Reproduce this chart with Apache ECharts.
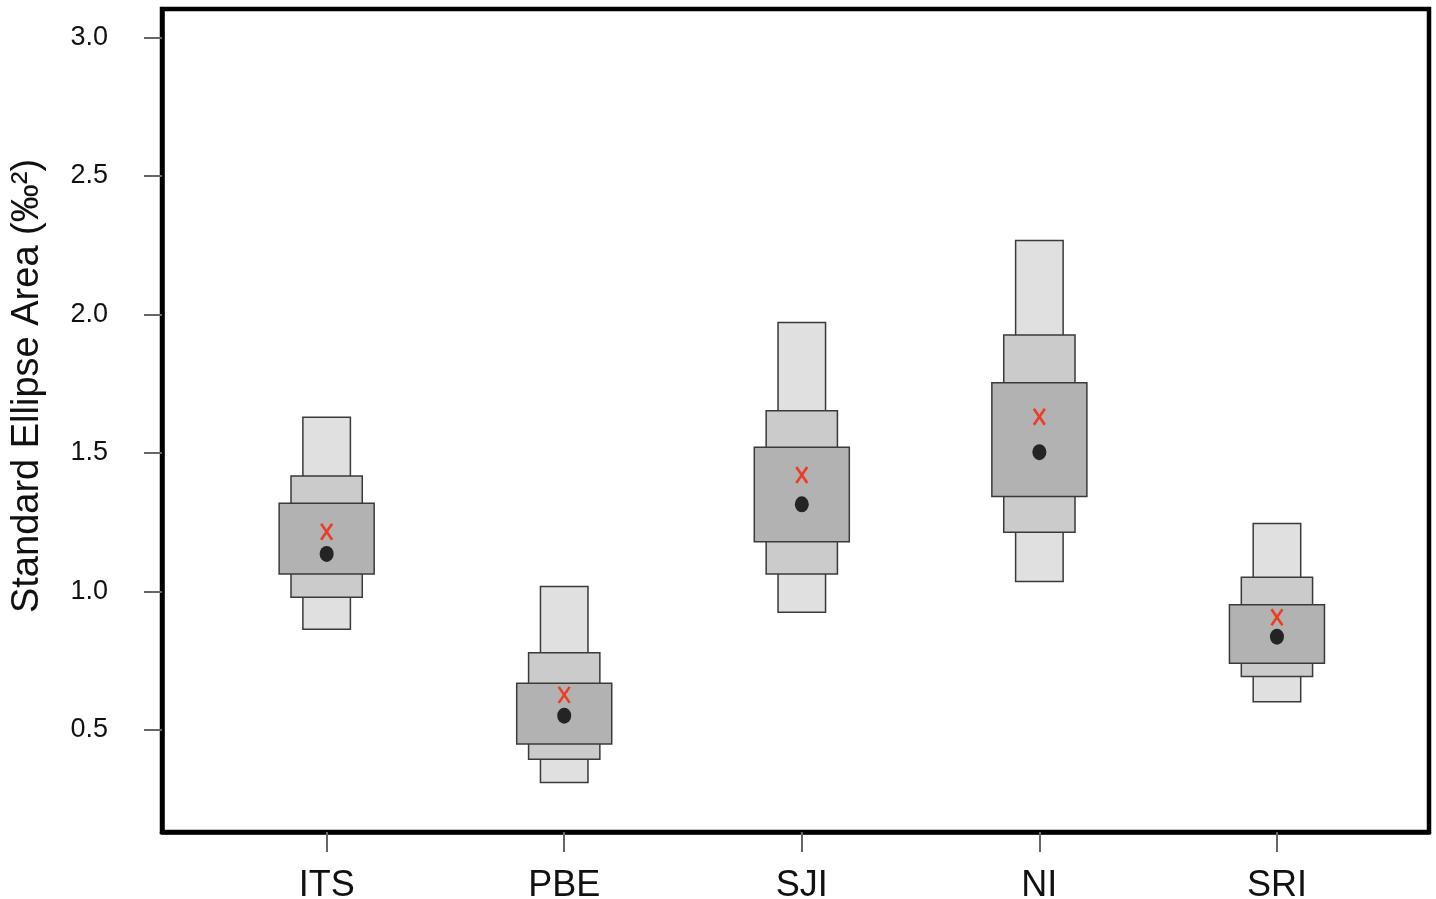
<!DOCTYPE html>
<html>
<head>
<meta charset="utf-8">
<script src="https://cdn.jsdelivr.net/npm/echarts@6/dist/echarts.min.js"></script>
<style>
html,body{margin:0;padding:0;background:#fff;}
#chart{width:1436px;height:899px;}
</style>
</head>
<body>
<div id="chart"></div>
<script>
// ---- data ----
var categories = ['ITS', 'PBE', 'SJI', 'NI', 'SRI'];
var ci95Low  = [0.863, 0.310, 0.924, 1.035, 0.601];
var ci95High = [1.628, 1.017, 1.970, 2.266, 1.245];
var ci75Low  = [0.978, 0.394, 1.062, 1.213, 0.692];
var ci75High = [1.416, 0.778, 1.652, 1.925, 1.051];
var ci50Low  = [1.062, 0.449, 1.179, 1.342, 0.740];
var ci50High = [1.318, 0.668, 1.520, 1.753, 0.951];
var meanSEA  = [1.215, 0.626, 1.420, 1.630, 0.906];
var modeSEA  = [1.135, 0.551, 1.314, 1.502, 0.836];
var yTicks = [0.5, 1.0, 1.5, 2.0, 2.5, 3.0];

var chart = echarts.init(document.getElementById('chart'));

var boxData = categories.map(function (c, i) {
  return [i + 1, ci95Low[i], ci95High[i], ci75Low[i], ci75High[i], ci50Low[i], ci50High[i]];
});
var meanData = categories.map(function (c, i) { return [i + 1, meanSEA[i]]; });
var modeData = categories.map(function (c, i) { return [i + 1, modeSEA[i]]; });

var levels = [
  { lo: 1, hi: 2, w: 0.2, fill: '#e0e0e0' },
  { lo: 3, hi: 4, w: 0.3, fill: '#cbcbcb' },
  { lo: 5, hi: 6, w: 0.4, fill: '#b2b2b2' }
];

function renderBoxes(params, api) {
  var x = api.value(0);
  var children = levels.map(function (lv) {
    var p1 = api.coord([x - lv.w / 2, api.value(lv.hi)]);
    var p2 = api.coord([x + lv.w / 2, api.value(lv.lo)]);
    return {
      type: 'rect',
      shape: { x: p1[0], y: p1[1], width: p2[0] - p1[0], height: p2[1] - p1[1] },
      style: { fill: lv.fill, stroke: '#3a3a3a', lineWidth: 1.5 }
    };
  });
  return { type: 'group', children: children };
}

function renderMean(params, api) {
  var p = api.coord([api.value(0), api.value(1)]);
  var hw = 5.5, hh = 8;
  var st = { stroke: '#ee3b24', lineWidth: 2.6 };
  return {
    type: 'group',
    children: [
      { type: 'line', shape: { x1: p[0] - hw, y1: p[1] - hh, x2: p[0] + hw, y2: p[1] + hh }, style: st },
      { type: 'line', shape: { x1: p[0] + hw, y1: p[1] - hh, x2: p[0] - hw, y2: p[1] + hh }, style: st }
    ]
  };
}

var option = {
  backgroundColor: '#ffffff',
  animation: false,
  grid: {
    left: 162, right: 7, top: 9, bottom: 67,
    show: true, borderColor: '#000', borderWidth: 4.5,
    containLabel: false, outerBoundsMode: 'none'
  },
  xAxis: {
    type: 'value',
    min: 0.307, max: 5.64,
    splitLine: { show: false },
    axisLine: { show: true, lineStyle: { color: '#000', width: 4.5 } },
    axisTick: { show: true, length: 20, customValues: [1, 2, 3, 4, 5], lineStyle: { color: '#666', width: 2 } },
    axisLabel: {
      customValues: [1, 2, 3, 4, 5],
      margin: 36,
      fontSize: 36,
      fontFamily: 'Liberation Sans, Arial, sans-serif',
      color: '#111',
      formatter: function (v) { return categories[Math.round(v) - 1]; }
    }
  },
  yAxis: {
    type: 'value',
    min: 0.131, max: 3.102,
    splitLine: { show: false },
    axisLine: { show: true, lineStyle: { color: '#000', width: 4.5 } },
    axisTick: { show: true, length: 18, customValues: yTicks, lineStyle: { color: '#666', width: 2 } },
    axisLabel: {
      customValues: yTicks,
      margin: 54,
      fontSize: 27,
      fontFamily: 'Liberation Sans, Arial, sans-serif',
      color: '#111',
      padding: [0, 0, 4, 0],
      formatter: function (v) { return v.toFixed(1); }
    }
  },
  graphic: [{
    type: 'text',
    x: 28, y: 386,
    rotation: Math.PI / 2,
    style: {
      text: 'Standard Ellipse Area (‰²)',
      fontSize: 38,
      fontFamily: 'Liberation Sans, Arial, sans-serif',
      fill: '#111',
      align: 'center',
      verticalAlign: 'middle'
    }
  }],
  series: [
    {
      type: 'custom',
      name: 'credible intervals',
      renderItem: renderBoxes,
      data: boxData,
      encode: { x: 0, y: [1, 2] },
      z: 2
    },
    {
      type: 'custom',
      name: 'mean',
      renderItem: renderMean,
      data: meanData,
      encode: { x: 0, y: 1 },
      z: 4
    },
    {
      type: 'scatter',
      name: 'mode',
      data: modeData,
      symbol: 'circle',
      symbolSize: [14, 16],
      itemStyle: { color: '#000' },
      z: 5
    }
  ]
};
chart.setOption(option);
</script>
</body>
</html>
